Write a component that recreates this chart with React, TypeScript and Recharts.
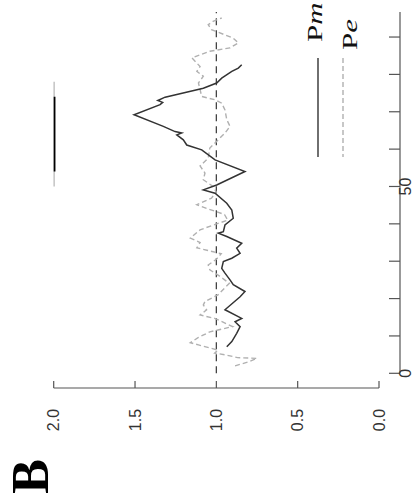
import React from 'react';
import { LineChart, Line, XAxis, YAxis, ReferenceLine } from 'recharts';

// Pm series (index t, ratio value)
const pmT = [7.1, 8.5, 10.7, 12.5, 13.8, 14.7, 17.0, 20.5, 21.9, 23.7, 25.0, 26.8, 28.1, 29.9, 30.8, 32.1, 33.5, 34.8, 36.6, 37.5, 37.9, 39.7, 41.5, 43.7, 45.5, 48.2, 49.1, 50.4, 54.0, 57.1, 59.8, 61.1, 62.5, 63.8, 64.3, 64.7, 66.1, 69.2, 71.9, 72.5, 73.0, 73.9, 76.3, 77.7, 79.0, 80.8, 81.7, 82.6];
const pmV = [0.936, 0.905, 0.875, 0.854, 0.885, 0.844, 0.947, 0.854, 0.824, 0.896, 0.916, 0.947, 0.967, 0.957, 0.905, 0.854, 0.875, 0.844, 0.936, 0.988, 0.957, 0.947, 0.896, 0.905, 0.936, 1.008, 1.08, 0.998, 0.824, 1.008, 1.09, 1.182, 1.203, 1.243, 1.213, 1.254, 1.326, 1.506, 1.346, 1.33, 1.36, 1.315, 1.08, 0.998, 0.967, 0.905, 0.865, 0.844];

// Pe series
const peT = [2.0, 3.1, 4.0, 4.2, 4.9, 5.4, 6.2, 7.6, 8.2, 9.6, 11.1, 11.6, 12.5, 14.7, 15.6, 17.0, 18.3, 19.2, 21.0, 24.1, 26.0, 27.7, 29.0, 30.5, 32.0, 33.6, 35.0, 36.2, 38.4, 39.5, 41.0, 42.5, 44.0, 45.1, 46.9, 48.5, 50.0, 51.8, 53.6, 55.5, 57.6, 60.3, 62.0, 64.3, 66.1, 67.9, 70.5, 72.3, 73.2, 74.1, 75.9, 77.7, 79.5, 80.8, 82.1, 84.4, 86.2, 87.1, 88.4, 89.7, 92.0, 93.3, 94.2, 95.1];
const peV = [0.885, 0.80, 0.75, 0.87, 0.94, 1.01, 0.99, 1.11, 1.16, 1.11, 1.04, 0.99, 0.90, 1.01, 1.10, 1.06, 1.08, 1.07, 0.99, 0.92, 0.98, 1.04, 1.05, 1.00, 0.97, 1.12, 1.10, 1.16, 1.10, 1.03, 0.93, 0.95, 1.05, 1.12, 1.03, 1.00, 1.02, 1.08, 1.07, 1.10, 1.05, 1.04, 1.00, 0.947, 0.916, 0.936, 0.947, 0.967, 1.008, 1.09, 1.10, 1.11, 1.08, 1.12, 1.10, 1.15, 1.04, 0.916, 0.865, 0.896, 1.03, 1.05, 1.02, 0.967];

const valueTicks = [0, 0.5, 1.0, 1.5, 2.0];
const indexTicks = [0, 10, 20, 30, 40, 50, 60, 70, 80, 90];
const indexLabels = [0, 50];
const periodOuter = [50, 78];
const periodInner = [54, 74];
const periodLevel = 2.0;
const baselineValue = 1.0;
const panelLabel = 'B';

const pmData = pmT.map((t, i) => ({ t, v: pmV[i] }));
const peData = peT.map((t, i) => ({ t, v: peV[i] }));
const outerData = periodOuter.map((t) => ({ t, v: periodLevel }));
const innerData = periodInner.map((t) => ({ t, v: periodLevel }));

const AXIS = '#555';
const FONT = '"Liberation Sans", Arial, sans-serif';
const PM_COLOR = '#333333';
const PE_COLOR = '#b0b0b0';

const ValueTick = (props: any) => {
  const { x, y, payload } = props;
  const ty = y + 32;
  return (
    <g>
      <line x1={x} y1={y} x2={x} y2={y - 7} stroke={AXIS} strokeWidth={1.2} />
      <text x={x} y={ty} transform={`rotate(-90 ${x} ${ty})`} textAnchor="middle" dominantBaseline="central" fontSize={16} fontFamily={FONT} fill="#333">
        {Number(payload.value).toFixed(1)}
      </text>
    </g>
  );
};

const IndexTick = (props: any) => {
  const { x, y, payload } = props;
  const tx = x + 6;
  return (
    <g>
      <line x1={x} y1={y} x2={x - 11} y2={y} stroke={AXIS} strokeWidth={1.2} />
      {indexLabels.includes(payload.value) && (
        <text x={tx} y={y} transform={`rotate(-90 ${tx} ${y})`} textAnchor="middle" dominantBaseline="central" fontSize={16} fontFamily={FONT} fill="#333">
          {payload.value}
        </text>
      )}
    </g>
  );
};

export default function App() {
  return (
    <div style={{ position: 'absolute', left: 0, top: 0, width: 417, height: 496, background: '#fff' }}>
      <LineChart layout="vertical" width={417} height={496} margin={{ top: 12, right: 0, bottom: 48, left: 53.7 }}>
        <XAxis xAxisId="a" type="number" domain={[0, 1]} height={14.7} tick={false} axisLine={false} tickLine={false} />
        <XAxis
          xAxisId="v"
          type="number"
          dataKey="v"
          domain={[0, 2]}
          reversed
          ticks={valueTicks}
          interval={0}
          height={60}
          tickSize={0}
          tickMargin={0}
          tickLine={false}
          axisLine={{ stroke: AXIS, strokeWidth: 1.2 }}
          tick={<ValueTick />}
          allowDataOverflow
        />
        <YAxis yAxisId="a" orientation="right" type="number" domain={[0, 1]} width={21} tick={false} axisLine={false} tickLine={false} />
        <YAxis
          yAxisId="c"
          orientation="right"
          type="number"
          dataKey="t"
          domain={[0, 96.7]}
          reversed
          ticks={indexTicks}
          interval={0}
          width={17}
          tickSize={0}
          tickMargin={0}
          tickLine={false}
          axisLine={{ stroke: AXIS, strokeWidth: 1.2 }}
          tick={<IndexTick />}
          allowDataOverflow
        />
        <ReferenceLine xAxisId="v" yAxisId="c" x={baselineValue} stroke="#444" strokeWidth={1.3} strokeDasharray="7 5" />
        <Line xAxisId="v" yAxisId="c" data={peData} dataKey="v" stroke={PE_COLOR} strokeWidth={1.4} strokeDasharray="5 3" dot={false} isAnimationActive={false} />
        <Line xAxisId="v" yAxisId="c" data={pmData} dataKey="v" stroke={PM_COLOR} strokeWidth={1.5} dot={false} isAnimationActive={false} />
        <Line xAxisId="v" yAxisId="c" data={outerData} dataKey="v" stroke="#888" strokeWidth={1.5} dot={false} isAnimationActive={false} />
        <Line xAxisId="v" yAxisId="c" data={innerData} dataKey="v" stroke="#000" strokeWidth={3.5} dot={false} isAnimationActive={false} />
      </LineChart>
      <svg width={417} height={496} style={{ position: 'absolute', left: 0, top: 0, pointerEvents: 'none' }}>
        <line x1={318} y1={58} x2={318} y2={157} stroke={PM_COLOR} strokeWidth={1.4} />
        <line x1={343} y1={58} x2={343} y2={157} stroke={PE_COLOR} strokeWidth={1.4} strokeDasharray="5 3" />
        <text transform="translate(322 42) rotate(-90) scale(1.4 1)" fontFamily='"Liberation Serif", "Times New Roman", serif' fontSize={22} fill="#111">
          P<tspan fontStyle="italic">m</tspan>
        </text>
        <text transform="translate(357 50) rotate(-90) scale(1.4 1)" fontFamily='"Liberation Serif", "Times New Roman", serif' fontSize={22} fill="#111">
          P<tspan fontStyle="italic">e</tspan>
        </text>
        <text transform="translate(48 476.5) rotate(-90)" textAnchor="middle" fontFamily='"Liberation Serif", "Times New Roman", serif' fontWeight="bold" fontSize={52} fill="#000">
          {panelLabel}
        </text>
      </svg>
    </div>
  );
}
